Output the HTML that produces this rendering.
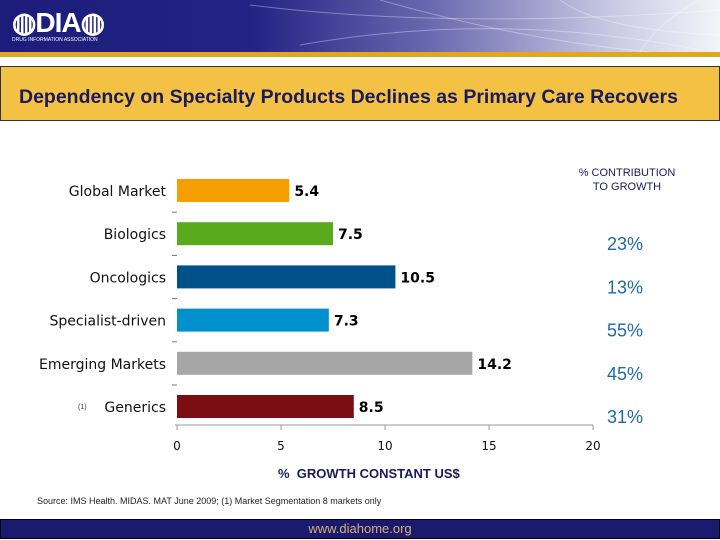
<!DOCTYPE html>
<html><head><meta charset="utf-8"><style>
body{margin:0;width:720px;height:540px;overflow:hidden;background:#fff;font-family:"Liberation Sans",sans-serif;position:relative}
.abs{position:absolute}
</style></head><body>
<div class="abs" style="left:0;top:0;width:720px;height:52px;background:linear-gradient(90deg,#1c1c7a 0%,#232385 35%,#6a6ab0 60%,#c9c9e4 85%,#f4f4fa 100%)">
<svg width="720" height="52" style="position:absolute;left:0;top:0"><g stroke="#ffffff" stroke-opacity="0.35" fill="none"><path d="M250 5 Q450 30 720 10"/><path d="M300 45 Q500 10 700 50"/><path d="M380 0 Q520 40 650 52"/><path d="M640 52 Q660 20 700 0"/><path d="M560 0 Q600 30 720 35"/></g></svg>
<div class="abs" style="left:12px;top:6px;color:#fff;font-weight:bold;font-size:28px;letter-spacing:-1px">◍DIA◍</div>
<div class="abs" style="left:12px;top:37px;color:#fff;font-size:5px">DRUG INFORMATION ASSOCIATION</div>
</div>
<div class="abs" style="left:0;top:52px;width:720px;height:5px;background:#e0a81c"></div>
<div class="abs" style="left:0;top:66px;width:718px;height:53px;background:#f3c244;border:1px solid #333">
<span style="position:absolute;left:18px;top:19px;color:#1a1a5c;font-weight:bold;font-size:19.5px;white-space:nowrap">Dependency on Specialty Products Declines as Primary Care Recovers</span></div>
<div class="abs" style="left:560px;top:166px;width:134px;text-align:center;font-size:11px;color:#1a1a5c;line-height:14px">% CONTRIBUTION<br>TO GROWTH</div>
<svg id="chart" class="abs" style="left:0;top:0" width="720" height="540"></svg>
<div class="abs" style="left:278px;top:466px;font-size:13px;font-weight:bold;color:#1a1a5c">%&nbsp; GROWTH CONSTANT US$</div>
<div class="abs" style="left:37px;top:496px;font-size:9px;color:#222">Source: IMS Health. MIDAS. MAT June 2009; (1) Market Segmentation 8 markets only</div>
<div class="abs" style="left:0;top:519px;width:718px;height:18px;background:#1a1a6e;border:1px solid #000;text-align:center;color:#d8b070;font-size:13px;line-height:18px">www.diahome.org</div>
<script>
const categories=["Global Market","Biologics","Oncologics","Specialist-driven","Emerging Markets","Generics"];
const values=[5.4,7.5,10.5,7.3,14.2,8.5];
const valueLabels=["5.4","7.5","10.5","7.3","14.2","8.5"];
const contributions=["","23%","13%","55%","45%","31%"];
const colors=["#f5a000","#5aaa1e","#00508a","#0090cc","#a6a6a6","#7a0e10"];
const ticks=[0,5,10,15,20];
const svg=document.getElementById('chart');const NS='http://www.w3.org/2000/svg';
const x=v=>177+v*20.8;const y=i=>179+i*43.2;const bh=23;
function mk(t,a,txt){const e=document.createElementNS(NS,t);for(const k in a)e.setAttribute(k,a[k]);if(txt!==undefined)e.textContent=txt;svg.appendChild(e);return e;}
categories.forEach((c,i)=>{
 const r=mk('rect',{x:x(0),y:y(i),width:x(values[i])-x(0),height:bh,fill:colors[i]});
 
 
 const l=mk('text',{x:166,y:y(i)+17,'text-anchor':'end','font-size':14,'font-family':'DejaVu Sans, sans-serif',fill:'#111'},c);
 
 
 const v=mk('text',{x:x(values[i])+5,y:y(i)+17,'font-size':14,'font-weight':'bold','font-family':'DejaVu Sans, sans-serif',fill:'#000'},valueLabels[i]);
 
 
 if(contributions[i]){const p=mk('text',{x:607,y:y(i)+28,'font-size':18,fill:'#1e6aa8'},contributions[i]);
 
 }
 if(i>0){const d=mk('line',{x1:172,x2:177,y1:y(i)-10,y2:y(i)-10,stroke:'#777'});
 
 }
});
const ax=mk('line',{x1:x(0)-2,x2:x(20),y1:425,y2:425,stroke:'#999'});


ticks.forEach(t=>{
 const tk=mk('line',{x1:x(t),x2:x(t),y1:425,y2:430,stroke:'#999'});
 
 
 const tl=mk('text',{x:x(t),y:450,'text-anchor':'middle','font-size':12,'font-family':'DejaVu Sans, sans-serif',fill:'#111'},String(t));
 
 
});
const fn=mk('text',{x:78,y:409,'font-size':7,fill:'#333'},'(1)');


</script>
</body></html>
